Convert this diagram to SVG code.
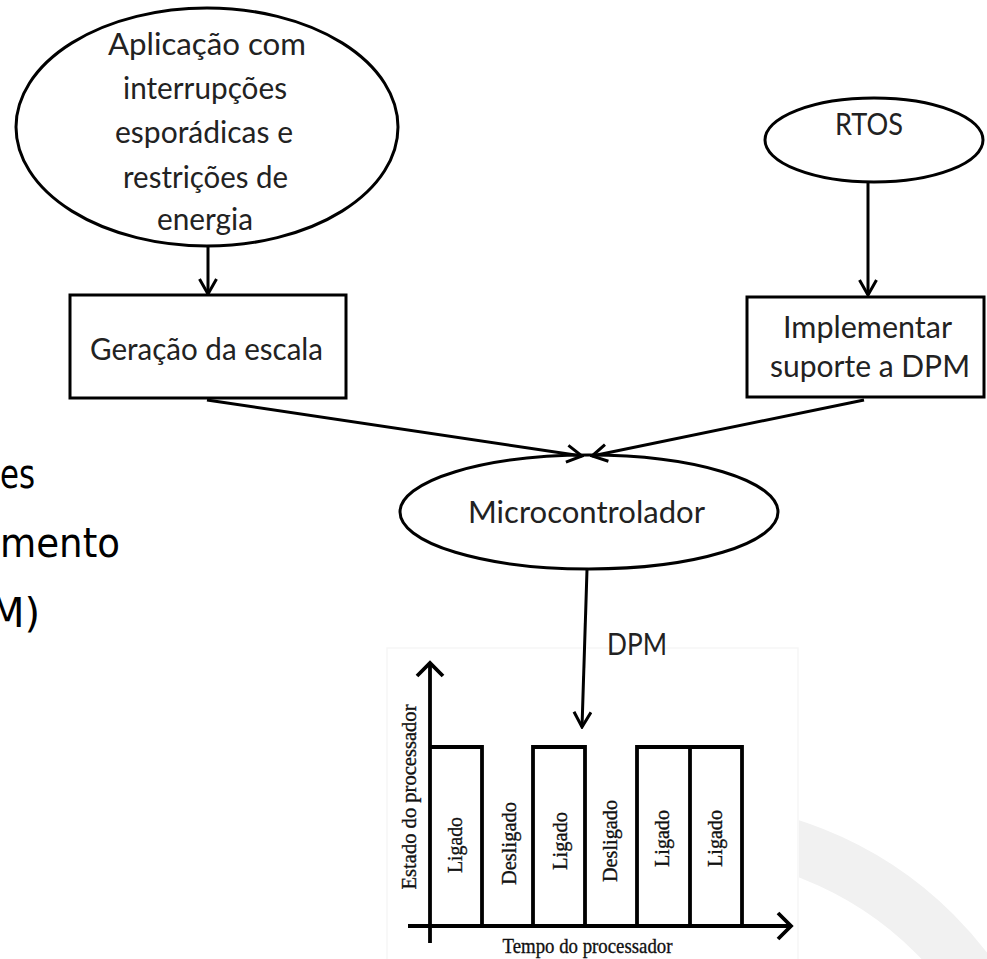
<svg xmlns="http://www.w3.org/2000/svg" width="987" height="959" viewBox="0 0 987 959">
<style>
.shape{fill:#fff;stroke:#000;stroke-width:3}
.lbl{font-family:Lato,"Open Sans","Liberation Sans",sans-serif;font-size:30px;fill:#222;text-anchor:middle}
.ser{font-family:"Liberation Serif","Times New Roman",serif;font-size:22px;fill:#111;stroke:#111;stroke-width:0.35;text-anchor:middle}
.big{font-family:"DejaVu Sans","Liberation Sans",sans-serif;font-size:40px;fill:#000}
.conn{fill:none;stroke:#000;stroke-width:3}
.ax{fill:none;stroke:#000;stroke-width:3.8;stroke-linejoin:miter}
</style>
<defs>
<marker id="arr" viewBox="0 0 18 20" refX="16" refY="10" markerWidth="18" markerHeight="20" markerUnits="userSpaceOnUse" orient="auto">
<path d="M1,1.5 L16,10 L1,18.5" fill="none" stroke="#000" stroke-width="3"/>
</marker>
<clipPath id="wm"><rect x="799" y="0" width="188" height="959"/></clipPath>
</defs>
<rect width="987" height="959" fill="#fff"/>
<g id="watermark" clip-path="url(#wm)">
<circle cx="682" cy="1186" r="357" fill="none" stroke="#f1f1f1" stroke-width="54"/>
</g>
<g id="side-text">
<text class="big" x="0" y="488" textLength="35" lengthAdjust="spacingAndGlyphs">es</text>
<text class="big" x="0" y="557" textLength="120" lengthAdjust="spacingAndGlyphs">mento</text>
<text class="big" x="40" y="627" text-anchor="end">M)</text>
</g>
<g id="chart">
<rect x="387" y="648" width="411" height="312" fill="none" stroke="#f6f6f6" stroke-width="1.5"/>
<path class="ax" d="M430,943 L430,664"/>
<path class="ax" d="M417,676 L430,663 L443,676"/>
<path class="ax" d="M408,926 L791,926"/>
<path class="ax" d="M778,913 L791,926 L778,939"/>
<path class="ax" d="M430,747 L482,747 L482,926"/>
<path class="ax" d="M533,926 L533,747 L585,747 L585,926"/>
<path class="ax" d="M637,926 L637,747 L742,747 L742,926"/>
<path class="ax" d="M690,747 L690,926"/>
<text class="ser" transform="translate(416,797) rotate(-90)" textLength="185" lengthAdjust="spacingAndGlyphs">Estado do processador</text>
<text class="ser" transform="translate(462,845) rotate(-90)" textLength="56" lengthAdjust="spacingAndGlyphs">Ligado</text>
<text class="ser" transform="translate(516,843.5) rotate(-90)" textLength="83" lengthAdjust="spacingAndGlyphs">Desligado</text>
<text class="ser" transform="translate(567,841) rotate(-90)" textLength="58" lengthAdjust="spacingAndGlyphs">Ligado</text>
<text class="ser" transform="translate(617,841) rotate(-90)" textLength="82" lengthAdjust="spacingAndGlyphs">Desligado</text>
<text class="ser" transform="translate(669,838.5) rotate(-90)" textLength="57" lengthAdjust="spacingAndGlyphs">Ligado</text>
<text class="ser" transform="translate(722,838.5) rotate(-90)" textLength="57" lengthAdjust="spacingAndGlyphs">Ligado</text>
<text class="ser" x="587.5" y="953" textLength="170" lengthAdjust="spacingAndGlyphs">Tempo do processador</text>
</g>
<g id="app">
<ellipse class="shape" cx="207" cy="127" rx="191" ry="119"/>
<text class="lbl" x="207" y="55" textLength="198" lengthAdjust="spacingAndGlyphs">Aplicação com</text>
<text class="lbl" x="205" y="99" textLength="164" lengthAdjust="spacingAndGlyphs">interrupções</text>
<text class="lbl" x="204" y="143" textLength="178" lengthAdjust="spacingAndGlyphs">esporádicas e</text>
<text class="lbl" x="205.5" y="188" textLength="165" lengthAdjust="spacingAndGlyphs">restrições de</text>
<text class="lbl" x="205" y="230" textLength="96" lengthAdjust="spacingAndGlyphs">energia</text>
</g>
<g id="rtos">
<ellipse class="shape" cx="874" cy="140" rx="109" ry="42"/>
<text class="lbl" x="869" y="135" textLength="68" lengthAdjust="spacingAndGlyphs">RTOS</text>
</g>
<g id="geracao">
<rect class="shape" x="70" y="295" width="276" height="103"/>
<text class="lbl" x="206.5" y="360" textLength="233" lengthAdjust="spacingAndGlyphs">Geração da escala</text>
</g>
<g id="implementar">
<rect class="shape" x="747" y="297" width="237" height="100"/>
<text class="lbl" x="867.5" y="338" textLength="169" lengthAdjust="spacingAndGlyphs">Implementar</text>
<text class="lbl" x="870" y="377" textLength="200" lengthAdjust="spacingAndGlyphs">suporte a DPM</text>
</g>
<g id="micro">
<ellipse class="shape" cx="589" cy="512" rx="189" ry="57"/>
<text class="lbl" x="586.5" y="523" textLength="237" lengthAdjust="spacingAndGlyphs">Microcontrolador</text>
</g>
<g id="connectors">
<line class="conn" x1="208" y1="247" x2="208" y2="294" marker-end="url(#arr)"/>
<line class="conn" x1="868" y1="182" x2="868" y2="295" marker-end="url(#arr)"/>
<line class="conn" x1="207" y1="400" x2="582" y2="456" marker-end="url(#arr)"/>
<line class="conn" x1="864" y1="400" x2="592" y2="456" marker-end="url(#arr)"/>
<line class="conn" x1="587" y1="570" x2="582" y2="727" marker-end="url(#arr)"/>
<text class="lbl" x="637" y="655" textLength="60" lengthAdjust="spacingAndGlyphs">DPM</text>
</g>
</svg>
